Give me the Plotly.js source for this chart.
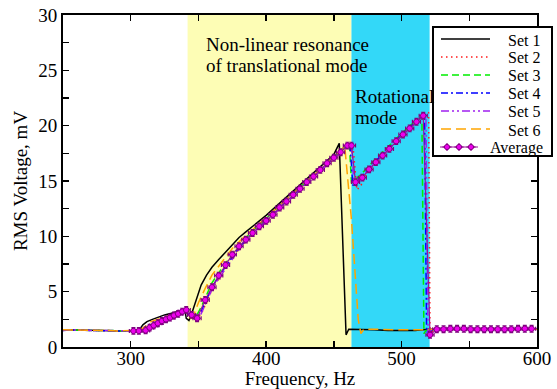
<!DOCTYPE html>
<html>
<head>
<meta charset="utf-8">
<script src="https://cdn.plot.ly/plotly-3.0.1.min.js"></script>
<style>html,body{margin:0;padding:0;background:#fff;}#chart{width:557px;height:389px;}</style>
</head>
<body>
<div id="chart"></div>
<script>
// ---- data ----
const set1F = [250,260,270,280,290,300,306,309,312,316,320,325,330,335,338,340,341,343,345,348,352,356,360,365,370,375,380,385,390,395,400,410,420,430,440,450,454,456,459,461,465,470,480,490,500,510,520,530,540,550,560,570,580,590,600];
const set1V = [1.55,1.55,1.5,1.5,1.45,1.45,1.5,2.0,2.3,2.5,2.7,2.9,3.05,3.2,3.35,3.4,2.6,2.4,3.0,4.2,5.6,6.5,7.2,7.9,8.6,9.3,9.9,10.4,10.9,11.4,11.9,13.0,14.1,15.2,16.3,17.4,18.4,12,1.1,1.6,1.6,1.6,1.55,1.5,1.5,1.5,1.6,1.6,1.6,1.65,1.6,1.6,1.6,1.6,1.6];

const set2F = [250,260,270,280,290,300,308,312,316,320,325,330,335,340,344,348,352,356,360,365,370,375,380,390,400,410,420,430,440,450,460,464,467,470,475,480,490,500,510,516,520,521,523,530,540,550,560,570,580,590,600];
const set2V = [1.5,1.55,1.5,1.5,1.45,1.45,1.45,1.6,1.9,2.1,2.45,2.65,2.95,3.25,2.8,2.5,3.0,4.0,5.2,6.2,7.2,8.1,8.9,10.2,11.3,12.5,13.6,14.8,15.9,17.0,18.1,18.3,14.2,14.6,15.8,16.5,17.8,19.1,20.3,20.9,21.2,0.9,1.5,1.6,1.65,1.6,1.6,1.6,1.6,1.65,1.65];

const set3F = [250,260,270,280,290,300,308,312,316,320,325,330,335,340,344,348,352,356,360,365,370,375,380,390,400,410,420,430,440,450,460,461.5,463,470,480,490,500,510,515,516.5,518,530,540,550,560,570,580,590,600];
const set3V = [1.55,1.5,1.5,1.5,1.45,1.45,1.45,1.7,2.0,2.2,2.5,2.7,3.0,3.3,2.8,2.7,3.6,4.7,5.8,6.7,7.6,8.4,9.2,10.5,11.6,12.8,13.9,15.0,16.1,17.2,18.3,18.3,14.8,15.6,16.9,18.1,19.3,20.4,20.8,1.2,1.5,1.6,1.6,1.65,1.6,1.6,1.6,1.6,1.6];

const set4F = [250,260,270,280,290,300,308,312,316,320,325,330,335,340,344,348,352,356,360,365,370,375,380,390,400,410,420,430,440,450,460,462,464,470,480,490,500,510,517,518.5,520,530,540,550,560,570,580,590,600];
const set4V = [1.5,1.55,1.5,1.45,1.45,1.45,1.45,1.6,1.9,2.15,2.45,2.65,2.95,3.3,2.8,2.5,3.2,4.3,5.4,6.4,7.3,8.2,9.0,10.3,11.4,12.6,13.7,14.8,16.0,17.1,18.1,18.2,14.6,15.3,16.7,17.9,19.2,20.3,21.0,1.3,1.5,1.6,1.6,1.65,1.6,1.6,1.6,1.6,1.65];

const set5F = [250,260,270,280,290,300,308,312,316,320,325,330,335,340,344,348,352,356,360,365,370,375,380,390,400,410,420,430,440,450,460,463,465,470,480,490,500,510,518,519.5,521,530,540,550,560,570,580,590,600];
const set5V = [1.55,1.5,1.5,1.5,1.45,1.45,1.45,1.6,1.85,2.1,2.4,2.6,2.9,3.25,2.8,2.5,3.0,4.1,5.2,6.2,7.1,8.0,8.8,10.2,11.3,12.5,13.6,14.7,15.9,17.0,18.1,18.3,14.5,15.2,16.6,17.8,19.1,20.2,21.0,1.3,1.5,1.6,1.6,1.6,1.6,1.65,1.6,1.6,1.6];

const set6F = [250,260,270,280,290,300,306,310,315,320,325,330,335,340,342,344,346,350,355,360,365,370,375,380,385,390,400,410,420,430,440,450,455,458,463,468,470,472,480,490,500,510,520,530,540,550,560,570,580,590,600];
const set6V = [1.55,1.55,1.5,1.5,1.45,1.45,1.5,1.8,2.3,2.5,2.7,2.9,3.1,3.3,3.0,2.6,2.7,4.0,5.3,6.5,7.3,8.1,8.9,9.5,10.1,10.6,11.7,12.8,13.9,15.0,16.0,17.2,17.7,18.2,11.5,2.5,1.2,1.6,1.6,1.55,1.55,1.55,1.6,1.6,1.6,1.6,1.6,1.6,1.6,1.6,1.6];

const avgF = [302,306,311,314,317,320,323,326,329,332,335,338,341,345,349,355,360,365,370,375,380,385,390,395,400,405,410,415,420,425,430,435,440,445,450,455,460,463,466,471,476,481,486,491,496,501,506,511,516,521,526,531,536,541,546,551,556,561,566,571,576,581,586,591,596];
const avgV = [1.45,1.45,1.5,1.75,1.95,2.15,2.35,2.5,2.65,2.85,3.0,3.2,3.35,2.9,2.6,4.25,5.4,6.45,7.4,8.35,9.1,9.7,10.3,10.9,11.4,11.95,12.6,13.15,13.75,14.3,14.9,15.4,16.0,16.6,17.1,17.6,18.2,18.2,14.9,15.3,16.05,16.7,17.3,17.9,18.6,19.2,19.75,20.35,20.9,1.1,1.6,1.6,1.65,1.65,1.65,1.6,1.6,1.6,1.6,1.6,1.6,1.6,1.65,1.65,1.65];

const seriesNames = ['Set 1','Set 2','Set 3','Set 4','Set 5','Set 6','Average'];
const regionTranslational = [342, 463];
const regionRotational = [463, 520.7];
const xTicks = [300, 400, 500, 600];
const yTicks = [0, 5, 10, 15, 20, 25, 30];

// ---- styles ----
const FONT = 'Liberation Serif, Times New Roman, serif';
const seriesStyles = [
  {color: '#000000', dash: 'solid'},
  {color: '#ff1a1a', dash: '1.5px,3.5px'},
  {color: '#00ee00', dash: '7px,4px'},
  {color: '#0000ff', dash: '7px,3px,2px,3px'},
  {color: '#a020f0', dash: '8px,3px,2px,3px,2px,3px'},
  {color: '#ffa500', dash: '10px,5px'}
];
const avgStyle = {line: '#9a0f9a', fill: '#ee00ee', edge: '#800080'};

const setData = [[set1F,set1V],[set2F,set2V],[set3F,set3V],[set4F,set4V],[set5F,set5V],[set6F,set6V]];
const traces = setData.map(function (d, i) {
  return {x: d[0], y: d[1], name: seriesNames[i], type: 'scatter', mode: 'lines', showlegend: false,
          line: {color: seriesStyles[i].color, dash: seriesStyles[i].dash, width: 1.5}};
});
traces.push({x: avgF, y: avgV, name: seriesNames[6], type: 'scatter', mode: 'lines+markers', showlegend: false,
   line: {color: avgStyle.line, width: 1.2},
   marker: {symbol: 'circle', size: 5.5, color: avgStyle.fill, line: {color: avgStyle.edge, width: 1}},
   error_x: {type: 'constant', value: 3, color: avgStyle.edge, thickness: 1.2, width: 2},
   error_y: {type: 'constant', value: 0.3, color: avgStyle.edge, thickness: 1.2, width: 2}});

// ---- layout geometry ----
const W = 557, H = 389;
const M = {l: 63, r: 20, t: 15, b: 42};
const PW = W - M.l - M.r, PH = H - M.t - M.b;
function PX(px) { return (px - M.l) / PW; }
function PY(py) { return (M.t + PH - py) / PH; }

// hand-built legend (tight rows like the reference)
const shapes = [
  {type: 'rect', layer: 'below', xref: 'x', yref: 'paper', x0: regionTranslational[0], x1: regionTranslational[1], y0: 0, y1: 1,
   fillcolor: '#fdfdb5', line: {width: 0}},
  {type: 'rect', layer: 'below', xref: 'x', yref: 'paper', x0: regionRotational[0], x1: regionRotational[1], y0: 0, y1: 1,
   fillcolor: '#33d8f8', line: {width: 0}},
  {type: 'rect', layer: 'above', xref: 'paper', yref: 'paper', x0: PX(433), x1: PX(552), y0: PY(156), y1: PY(27),
   fillcolor: '#ffffff', line: {color: '#000', width: 2}}
];
const annotations = [
  {x: 354, y: 27.3, xref: 'x', yref: 'y', xanchor: 'left', yanchor: 'middle', showarrow: false,
   text: 'Non-linear resonance', font: {family: FONT, size: 19, color: '#000'}},
  {x: 354, y: 25.4, xref: 'x', yref: 'y', xanchor: 'left', yanchor: 'middle', showarrow: false,
   text: 'of translational mode', font: {family: FONT, size: 19, color: '#000'}},
  {x: 464.3, y: 22.6, xref: 'x', yref: 'y', xanchor: 'left', yanchor: 'middle', showarrow: false,
   text: 'Rotational', font: {family: FONT, size: 19, color: '#000'}},
  {x: 464.3, y: 20.7, xref: 'x', yref: 'y', xanchor: 'left', yanchor: 'middle', showarrow: false,
   text: 'mode', font: {family: FONT, size: 19, color: '#000'}}
];
const rowTop = 39, rowStep = 18, legendFont = 16;
seriesStyles.forEach(function (s, i) {
  const ry = rowTop + i * rowStep;
  shapes.push({type: 'line', layer: 'above', xref: 'paper', yref: 'paper', x0: PX(441), x1: PX(490), y0: PY(ry), y1: PY(ry),
               line: {color: s.color, dash: s.dash, width: 1.5}});
  annotations.push({x: PX(541), y: PY(ry + 1), xref: 'paper', yref: 'paper', xanchor: 'right', yanchor: 'middle',
                    showarrow: false, borderpad: 0, text: seriesNames[i], font: {family: FONT, size: legendFont, color: '#000'}});
});
(function () {
  const ry = rowTop + 6 * rowStep;
  shapes.push({type: 'line', layer: 'above', xref: 'paper', yref: 'paper', x0: PX(440), x1: PX(478), y0: PY(ry), y1: PY(ry),
               line: {color: avgStyle.line, width: 1.2}});
  [447, 459, 471].forEach(function (cx) {
    shapes.push({type: 'line', layer: 'above', xref: 'paper', yref: 'paper', x0: PX(cx - 4.5), x1: PX(cx + 4.5), y0: PY(ry), y1: PY(ry),
                 line: {color: avgStyle.edge, width: 1.2}});
    shapes.push({type: 'line', layer: 'above', xref: 'paper', yref: 'paper', x0: PX(cx), x1: PX(cx), y0: PY(ry - 4), y1: PY(ry + 4),
                 line: {color: avgStyle.edge, width: 1.2}});
    shapes.push({type: 'circle', layer: 'above', xref: 'paper', yref: 'paper', x0: PX(cx - 2.6), x1: PX(cx + 2.6), y0: PY(ry + 2.6), y1: PY(ry - 2.6),
                 fillcolor: avgStyle.fill, line: {color: avgStyle.edge, width: 1}});
  });
  annotations.push({x: PX(544), y: PY(ry + 1), xref: 'paper', yref: 'paper', xanchor: 'right', yanchor: 'middle',
                    showarrow: false, borderpad: 0, text: seriesNames[6], font: {family: FONT, size: legendFont, color: '#000'}});
})();

const axisCommon = {
  showline: true, linecolor: '#000', linewidth: 2, mirror: 'allticks',
  ticks: 'inside', ticklen: 6, tickwidth: 1.5, tickcolor: '#000',
  showgrid: false, zeroline: false,
  tickfont: {family: FONT, size: 19, color: '#000'}
};

const layout = {
  width: W, height: H,
  margin: M,
  paper_bgcolor: '#fff', plot_bgcolor: '#fff',
  showlegend: false,
  xaxis: Object.assign({}, axisCommon, {
    range: [250, 600], tickvals: xTicks, ticktext: xTicks.map(String), ticklabelstandoff: -7,
    minor: {dtick: 50, tick0: 250, ticklen: 6, tickwidth: 1.5, tickcolor: '#000', ticks: 'inside'},
    title: {text: 'Frequency, Hz', font: {family: FONT, size: 19, color: '#000'}, standoff: 0}
  }),
  yaxis: Object.assign({}, axisCommon, {
    range: [0, 30], tickvals: yTicks, ticktext: yTicks.map(String),
    minor: {dtick: 2.5, tick0: 0, ticklen: 6, tickwidth: 1.5, tickcolor: '#000', ticks: 'inside'},
    title: {text: 'RMS Voltage, mV', font: {family: FONT, size: 19, color: '#000'}, standoff: 6}
  }),
  shapes: shapes,
  annotations: annotations
};

Plotly.newPlot('chart', traces, layout, {displayModeBar: false, staticPlot: true});
</script>
</body>
</html>
